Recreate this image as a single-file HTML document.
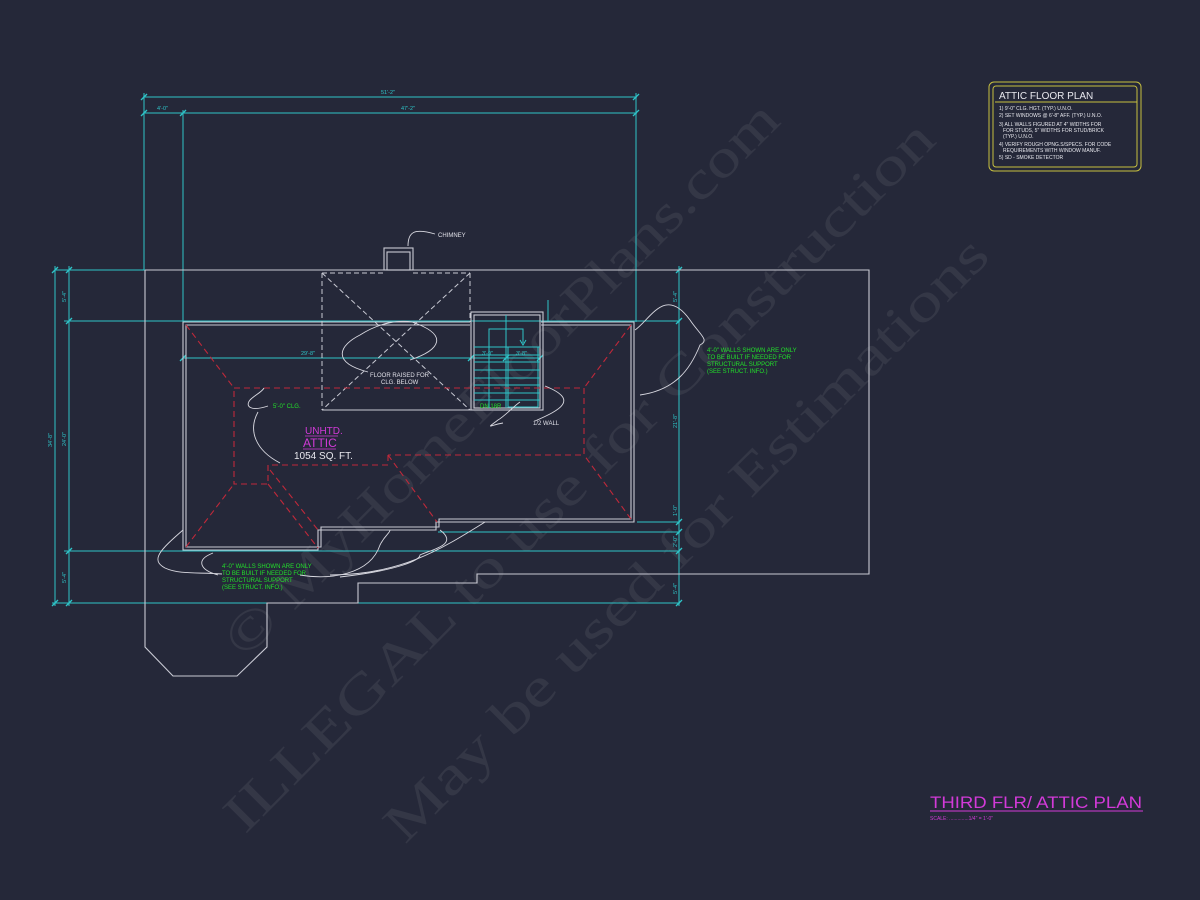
<!DOCTYPE html>
<html><head><meta charset="utf-8"><style>
html,body{margin:0;padding:0;background:#252839;}
svg{display:block;}
text{font-family:"Liberation Sans",sans-serif;}
text.wm{font-family:"Liberation Serif",serif;}
</style></head><body>
<svg width="1200" height="900" viewBox="0 0 1200 900" xmlns="http://www.w3.org/2000/svg">
<rect width="1200" height="900" fill="#252839"/>

<!-- watermark -->
<g fill="#ffffff" fill-opacity="0.07">
<text class="wm" transform="translate(245,660) rotate(-45)" font-size="54" textLength="760" lengthAdjust="spacingAndGlyphs">© MyHomeFloorPlans.com</text>
<text class="wm" transform="translate(245,835) rotate(-45)" font-size="54" textLength="980" lengthAdjust="spacingAndGlyphs">ILLEGAL to use for Construction</text>
<text class="wm" transform="translate(405,845) rotate(-45)" font-size="54" textLength="830" lengthAdjust="spacingAndGlyphs">May be used for Estimations</text>
</g>

<!-- cyan dimensions -->
<g stroke="#2ec4c8" stroke-width="1" fill="none">
<line x1="143" y1="97" x2="637" y2="97"/>
<line x1="143" y1="113" x2="637" y2="113"/>
<line x1="144" y1="93" x2="144" y2="270"/>
<line x1="183" y1="110" x2="183" y2="322"/>
<line x1="636" y1="93" x2="636" y2="322"/>
<line x1="55" y1="270" x2="145" y2="270"/>
<line x1="64" y1="321" x2="680" y2="321"/>
<line x1="183" y1="358" x2="541" y2="358"/>
<line x1="64" y1="551" x2="680" y2="551"/>
<line x1="438" y1="532" x2="680" y2="532"/>
<line x1="637" y1="522" x2="680" y2="522"/>
<line x1="52" y1="603" x2="680" y2="603"/>
<line x1="55" y1="266" x2="55" y2="606"/>
<line x1="69" y1="266" x2="69" y2="606"/>
<line x1="679" y1="266" x2="679" y2="606"/>
<line x1="548" y1="300" x2="548" y2="322"/>
<g stroke-width="1.3">
<line x1="141" y1="100" x2="147" y2="94"/><line x1="633" y1="100" x2="639" y2="94"/>
<line x1="141" y1="116" x2="147" y2="110"/><line x1="180" y1="116" x2="186" y2="110"/><line x1="633" y1="116" x2="639" y2="110"/>
<line x1="52" y1="273" x2="58" y2="267"/><line x1="52" y1="606" x2="58" y2="600"/>
<line x1="66" y1="273" x2="72" y2="267"/><line x1="66" y1="324" x2="72" y2="318"/><line x1="66" y1="554" x2="72" y2="548"/><line x1="66" y1="606" x2="72" y2="600"/>
<line x1="676" y1="273" x2="682" y2="267"/><line x1="676" y1="324" x2="682" y2="318"/><line x1="676" y1="525" x2="682" y2="519"/><line x1="676" y1="535" x2="682" y2="529"/><line x1="676" y1="554" x2="682" y2="548"/><line x1="676" y1="606" x2="682" y2="600"/>
<line x1="180" y1="361" x2="186" y2="355"/><line x1="468" y1="361" x2="474" y2="355"/><line x1="503" y1="361" x2="509" y2="355"/><line x1="537" y1="361" x2="543" y2="355"/>
</g>
</g>
<g fill="#2ec4c8" font-size="5.5">
<text x="381" y="94">51'-2"</text>
<text x="157" y="110">4'-0"</text>
<text x="401" y="110">47'-2"</text>
<text x="301" y="355">29'-8"</text>
<text x="482" y="355">3'-9"</text>
<text x="516" y="355">3'-8"</text>
<text transform="translate(52,447) rotate(-90)">34'-8"</text>
<text transform="translate(66,446) rotate(-90)">24'-0"</text>
<text transform="translate(66,302) rotate(-90)">5'-4"</text>
<text transform="translate(66,583) rotate(-90)">5'-4"</text>
<text transform="translate(677,302) rotate(-90)">5'-4"</text>
<text transform="translate(677,428) rotate(-90)">21'-8"</text>
<text transform="translate(677,516) rotate(-90)">1'-0"</text>
<text transform="translate(677,547) rotate(-90)">2'-0"</text>
<text transform="translate(677,594) rotate(-90)">5'-4"</text>
</g>

<!-- roof outline -->
<g stroke="#c9cad4" stroke-width="1.1" fill="none">
<polyline points="145,270 869,270 869,574 477,574 477,583 358,583 358,603 267,603 267,647 237,676 173,676 145,647 145,270"/>
<rect x="384" y="248" width="29" height="22"/>
<rect x="387" y="252" width="23" height="18"/>
<polyline points="470,322 183,322 183,550 318,550 318,530 436,530 436,522 634,522 634,322 541,322"/>
<polyline points="470,325 186,325 186,547 321,547 321,527 439,527 439,519 631,519 631,325 541,325"/>
<rect x="471" y="312" width="72" height="98"/>
<rect x="474" y="315" width="66" height="93"/>
<line x1="322" y1="410" x2="471" y2="410"/>
</g>
<g stroke="#c9cad4" stroke-width="1" fill="none" stroke-dasharray="5,3">
<line x1="322" y1="273" x2="322" y2="410"/>
<line x1="470" y1="273" x2="470" y2="322"/>
<line x1="322" y1="273" x2="384" y2="273"/>
<line x1="413" y1="273" x2="470" y2="273"/>
<line x1="322" y1="273" x2="470" y2="410"/>
<line x1="470" y1="273" x2="322" y2="410"/>
</g>

<!-- stair -->
<g stroke="#2ec4c8" stroke-width="1" fill="none">
<line x1="506" y1="315" x2="506" y2="408"/>
<polyline points="489,408 489,329 523,329 523,343"/>
<path d="M520,340 L523,345 L526,340"/>
<rect x="508" y="347" width="30" height="60"/>
<g stroke-width="0.9">
<line x1="474" y1="347" x2="540" y2="347"/>
<line x1="474" y1="355" x2="540" y2="355"/>
<line x1="474" y1="362" x2="540" y2="362"/>
<line x1="474" y1="370" x2="540" y2="370"/>
<line x1="474" y1="378" x2="540" y2="378"/>
<line x1="474" y1="385" x2="540" y2="385"/>
<line x1="474" y1="393" x2="540" y2="393"/>
<line x1="474" y1="400" x2="540" y2="400"/>
</g>
</g>

<!-- red hips -->
<g stroke="#c0283a" stroke-width="1.1" fill="none" stroke-dasharray="6,4">
<polyline points="234,388 584,388 584,455 388,455"/>
<polyline points="388,455 388,465 268,465 268,484 234,484 234,388"/>
<line x1="186" y1="325" x2="234" y2="388"/>
<line x1="631" y1="325" x2="584" y2="388"/>
<line x1="631" y1="519" x2="584" y2="455"/>
<line x1="186" y1="547" x2="234" y2="484"/>
<line x1="388" y1="455" x2="437" y2="522"/>
<line x1="270" y1="470" x2="318" y2="530"/>
<line x1="268" y1="484" x2="318" y2="548"/>
</g>

<!-- leaders -->
<g stroke="#d8d8e0" stroke-width="0.9" fill="none">
<path d="M408,246 C408,232 414,228 435,234"/>
<path d="M368,372 C330,362 340,345 360,335 C380,322 400,320 412,322 C450,335 440,350 410,360"/>
<path d="M268,406 C250,412 245,406 250,400 C255,395 262,392 264,388 M258,412 C248,430 255,450 280,463"/>
<path d="M503,423 C490,425 485,430 498,420 C505,416 515,405 520,402 M535,421 C560,410 580,400 545,386"/>
<path d="M635,330 C650,320 665,285 690,320 C700,335 710,340 700,345 C690,370 675,390 640,395"/>
<path d="M183,530 C160,550 150,560 165,568 C180,575 200,572 222,574 M213,553 C195,560 200,570 218,575"/>
<path d="M300,575 C330,580 370,575 380,545 C385,535 390,533 390,530 M440,530 C460,545 430,550 420,555 C420,560 400,570 340,577"/>
<path d="M330,575 C400,575 440,550 485,522"/>
</g>

<!-- labels -->
<g fill="#e0e0e8" font-size="6">
<text x="438" y="237">CHIMNEY</text>
<text x="370" y="377">FLOOR RAISED FOR</text>
<text x="381" y="384">CLG. BELOW</text>
<text x="533" y="425">1/2 WALL</text>
</g>
<g fill="#22e02a" font-size="6">
<text x="273" y="408">5'-0" CLG.</text>
<text x="480" y="408">DN 18R</text>
<text x="707" y="352">4'-0" WALLS SHOWN ARE ONLY</text>
<text x="707" y="359">TO BE BUILT IF NEEDED FOR</text>
<text x="707" y="366">STRUCTURAL SUPPORT</text>
<text x="707" y="373">(SEE STRUCT. INFO.)</text>
<text x="222" y="568">4'-0" WALLS SHOWN ARE ONLY</text>
<text x="222" y="575">TO BE BUILT IF NEEDED FOR</text>
<text x="222" y="582">STRUCTURAL SUPPORT</text>
<text x="222" y="589">(SEE STRUCT. INFO.)</text>
</g>
<g fill="#d23ad8">
<text x="305" y="434" font-size="10">UNHTD.</text>
<line x1="305" y1="436" x2="338" y2="436" stroke="#d23ad8" stroke-width="0.8"/>
<text x="303" y="447" font-size="12">ATTIC</text>
<line x1="303" y1="449" x2="336" y2="449" stroke="#d23ad8" stroke-width="0.8"/>
</g>
<text x="294" y="459" font-size="10" fill="#e8e8ee">1054 SQ. FT.</text>

<!-- legend -->
<g stroke="#c8c040" fill="none" stroke-width="1">
<rect x="989" y="82" width="152" height="89" rx="5"/>
<rect x="993" y="86" width="144" height="81" rx="3"/>
<line x1="995" y1="102" x2="1137" y2="102"/>
</g>
<text x="999" y="99" font-size="10" fill="#e8e8ee">ATTIC FLOOR PLAN</text>
<g fill="#e8e8ee" font-size="5">
<text x="999" y="110">1) 9'-0" CLG. HGT. (TYP.) U.N.O.</text>
<text x="999" y="117">2) SET WINDOWS @ 6'-8" AFF. (TYP.) U.N.O.</text>
<text x="999" y="126">3) ALL WALLS FIGURED AT 4" WIDTHS FOR</text>
<text x="1003" y="132">FOR STUDS, 5" WIDTHS FOR STUD/BRICK</text>
<text x="1003" y="138">(TYP.) U.N.O.</text>
<text x="999" y="146">4) VERIFY ROUGH OPNG.S/SPECS. FOR CODE</text>
<text x="1003" y="152">REQUIREMENTS WITH WINDOW MANUF.</text>
<text x="999" y="159">5) SD - SMOKE DETECTOR</text>
</g>

<!-- title -->
<text x="930" y="808" font-size="17" fill="#d23ad8" textLength="212" lengthAdjust="spacingAndGlyphs">THIRD FLR/ ATTIC PLAN</text>
<line x1="930" y1="811" x2="1143" y2="811" stroke="#d23ad8" stroke-width="1"/>
<text x="930" y="820" font-size="5" fill="#d23ad8">SCALE: ..............1/4" = 1'-0"</text>
</svg>
</body></html>
